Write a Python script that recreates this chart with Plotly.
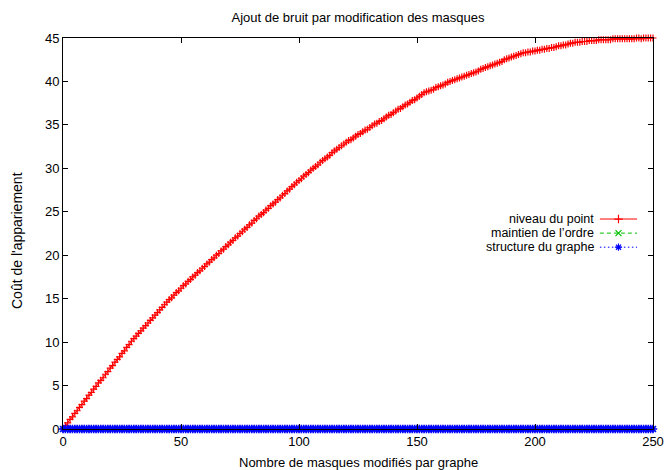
import plotly.graph_objects as go

# ---- data ----
x_vals = list(range(0, 251))
niveau_point = [
    0.0, 0.4, 0.7, 1.1, 1.4, 1.8, 2.1, 2.5, 2.8, 3.2,
    3.5, 3.9, 4.2, 4.6, 4.9, 5.3, 5.6, 5.9, 6.3, 6.6,
    7.0, 7.3, 7.7, 8.0, 8.3, 8.7, 9.0, 9.4, 9.7, 10.1,
    10.4, 10.7, 11.0, 11.3, 11.6, 11.9, 12.2, 12.5, 12.8, 13.1,
    13.4, 13.7, 14.0, 14.3, 14.6, 14.9, 15.1, 15.4, 15.7, 15.9,
    16.2, 16.5, 16.7, 17.0, 17.2, 17.5, 17.7, 18.0, 18.2, 18.5,
    18.7, 19.0, 19.2, 19.5, 19.7, 20.0, 20.2, 20.5, 20.7, 21.0,
    21.2, 21.5, 21.7, 22.0, 22.2, 22.5, 22.7, 23.0, 23.2, 23.5,
    23.7, 24.0, 24.2, 24.5, 24.7, 24.9, 25.2, 25.4, 25.7, 25.9,
    26.1, 26.4, 26.6, 26.9, 27.1, 27.4, 27.6, 27.9, 28.1, 28.4,
    28.6, 28.8, 29.1, 29.3, 29.5, 29.8, 30.0, 30.2, 30.4, 30.7,
    30.9, 31.1, 31.3, 31.5, 31.8, 32.0, 32.2, 32.4, 32.6, 32.8,
    33.0, 33.2, 33.3, 33.5, 33.7, 33.9, 34.0, 34.2, 34.4, 34.5,
    34.7, 34.9, 35.1, 35.2, 35.4, 35.5, 35.7, 35.9, 36.1, 36.2,
    36.4, 36.6, 36.8, 36.9, 37.1, 37.3, 37.4, 37.6, 37.8, 37.9,
    38.1, 38.3, 38.5, 38.7, 38.8, 38.9, 39.0, 39.1, 39.3, 39.4,
    39.5, 39.6, 39.7, 39.9, 40.0, 40.1, 40.2, 40.3, 40.4, 40.5,
    40.6, 40.7, 40.8, 40.9, 41.0, 41.1, 41.2, 41.4, 41.5, 41.6,
    41.7, 41.8, 41.9, 42.0, 42.1, 42.2, 42.3, 42.5, 42.6, 42.7,
    42.8, 42.9, 43.0, 43.1, 43.2, 43.3, 43.3, 43.4, 43.4, 43.5,
    43.5, 43.6, 43.6, 43.7, 43.7, 43.8, 43.8, 43.9, 43.9, 44.0,
    44.1, 44.1, 44.2, 44.2, 44.3, 44.4, 44.4, 44.5, 44.5, 44.5,
    44.6, 44.6, 44.6, 44.7, 44.7, 44.7, 44.7, 44.8, 44.8, 44.8,
    44.8, 44.8, 44.8, 44.9, 44.9, 44.9, 44.9, 44.9, 44.9, 44.9,
    44.9, 44.9, 44.9, 45.0, 45.0, 44.9, 45.0, 45.0, 45.0, 45.0,
    45.0,
]
maintien_ordre = [0.0] * 251   # every point read as 0
structure_graphe = [0.0] * 251  # every point read as 0

series_names = ["niveau du point", "maintien de l’ordre", "structure du graphe"]
x_ticks = [0, 50, 100, 150, 200, 250]
y_ticks = [0, 5, 10, 15, 20, 25, 30, 35, 40, 45]

colors = ["#ff0000", "#00c000", "#0000ff"]
symbols = ["cross-thin-open", "x-thin-open", "asterisk-open"]
dashes = ["solid", "4px,3px", "1.5px,2.5px"]
msizes = [5, 5, 7]
mwidths = [1.2, 1.2, 1.6]

FONT = "Liberation Sans, Arial, Helvetica, sans-serif"
FS = 13

fig = go.Figure()
for name, ys, c, s, d, ms, mw in zip(series_names, [niveau_point, maintien_ordre, structure_graphe],
                                     colors, symbols, dashes, msizes, mwidths):
    fig.add_trace(go.Scatter(
        x=x_vals, y=ys, mode="lines+markers", name=name,
        line=dict(color=c, width=1, dash=d),
        marker=dict(symbol=s, size=ms, color=c, line=dict(color=c, width=mw)),
        showlegend=False, cliponaxis=False,
    ))

# gnuplot-style key: text at left, sample at right (drawn on hidden overlay axes 0..1)
key_rows = [0.537, 0.501, 0.465]
for name, c, s, d, ky in zip(series_names, colors, symbols, dashes, key_rows):
    fig.add_trace(go.Scatter(
        x=[0.910, 0.973], y=[ky, ky], xaxis="x2", yaxis="y2", mode="lines",
        line=dict(color=c, width=1, dash=d), showlegend=False, hoverinfo="skip"))
    fig.add_trace(go.Scatter(
        x=[0.9415], y=[ky], xaxis="x2", yaxis="y2", mode="markers",
        marker=dict(symbol=s, size=6, color=c, line=dict(color=c, width=1.2)),
        showlegend=False, hoverinfo="skip"))
    fig.add_annotation(x=0.902, y=ky, xref="x2", yref="y2", text=name, showarrow=False,
                       xanchor="right", yanchor="middle", borderpad=0,
                       font=dict(family=FONT, size=12.5, color="black"))

axis_common = dict(showline=True, linecolor="black", linewidth=1, mirror="ticks",
                   ticks="inside", ticklen=5, tickcolor="black", tickwidth=1,
                   showgrid=False, zeroline=False, automargin=False,
                   tickfont=dict(family=FONT, size=FS, color="black"))

fig.update_layout(
    width=668, height=470,
    margin=dict(l=63, r=15, t=38, b=41, autoexpand=False),
    paper_bgcolor="white", plot_bgcolor="white",
    title=dict(text="Ajout de bruit par modification des masques",
               x=358 / 668, xanchor="center", y=1 - 17 / 470, yanchor="middle",
               font=dict(family=FONT, size=FS, color="black")),
    xaxis=dict(range=[0, 250], tickvals=x_ticks, **axis_common),
    yaxis=dict(range=[0, 45], tickvals=y_ticks, **axis_common),
    xaxis2=dict(range=[0, 1], overlaying="x", visible=False),
    yaxis2=dict(range=[0, 1], overlaying="y", visible=False),
    font=dict(family=FONT, size=FS, color="black"),
)

fig.add_annotation(text="Nombre de masques modifiés par graphe", xref="paper", yref="paper",
                   x=0.5, y=-(462 - 429) / 391, xanchor="center", yanchor="middle",
                   showarrow=False, font=dict(family=FONT, size=FS, color="black"))
fig.add_annotation(text="Coût de l'appariement", xref="paper", yref="paper",
                   x=-(63 - 17) / 590, y=(429 - 241) / 391, xanchor="center", yanchor="middle",
                   textangle=-90, showarrow=False, font=dict(family=FONT, size=14, color="black"))

fig.write_html("out.html")
